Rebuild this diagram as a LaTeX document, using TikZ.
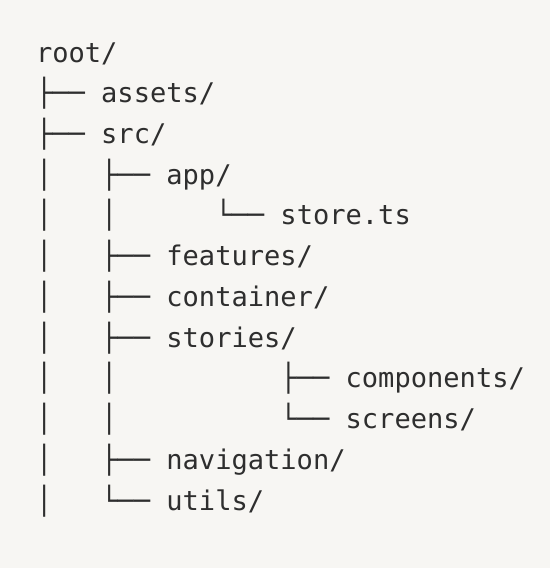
\documentclass[tikz,border=0pt]{standalone}
\usepackage{fontspec}
\newfontfamily\treemono{DejaVu Sans Mono}
\definecolor{bgcol}{HTML}{F7F6F3}
\definecolor{txtcol}{HTML}{2E2E2E}
\begin{document}
\begin{tikzpicture}[x=1pt,y=-1pt,
  line/.style={anchor=base west,inner sep=0pt,outer sep=0pt,text=txtcol,
    font=\treemono\fontsize{27.07}{32}\selectfont}]
\fill[bgcol] (0,0) rectangle (550,568);
\useasboundingbox (0,0) rectangle (550,568);
\def\dy{40.73}
\node[line] (l1)  at (36,62+0*\dy)  {root/};
\node[line] (l2)  at (36,62+1*\dy)  {├──\ assets/};
\node[line] (l3)  at (36,62+2*\dy)  {├──\ src/};
\node[line] (l4)  at (36,62+3*\dy)  {│\ \ \ ├──\ app/};
\node[line] (l5)  at (36,62+4*\dy)  {│\ \ \ │\ \ \ \ \ \ └──\ store.ts};
\node[line] (l6)  at (36,62+5*\dy)  {│\ \ \ ├──\ features/};
\node[line] (l7)  at (36,62+6*\dy)  {│\ \ \ ├──\ container/};
\node[line] (l8)  at (36,62+7*\dy)  {│\ \ \ ├──\ stories/};
\node[line] (l9)  at (36,62+8*\dy)  {│\ \ \ │\ \ \ \ \ \ \ \ \ \ ├──\ components/};
\node[line] (l10) at (36,62+9*\dy)  {│\ \ \ │\ \ \ \ \ \ \ \ \ \ └──\ screens/};
\node[line] (l11) at (36,62+10*\dy) {│\ \ \ ├──\ navigation/};
\node[line] (l12) at (36,62+11*\dy) {│\ \ \ └──\ utils/};
\end{tikzpicture}
\end{document}
